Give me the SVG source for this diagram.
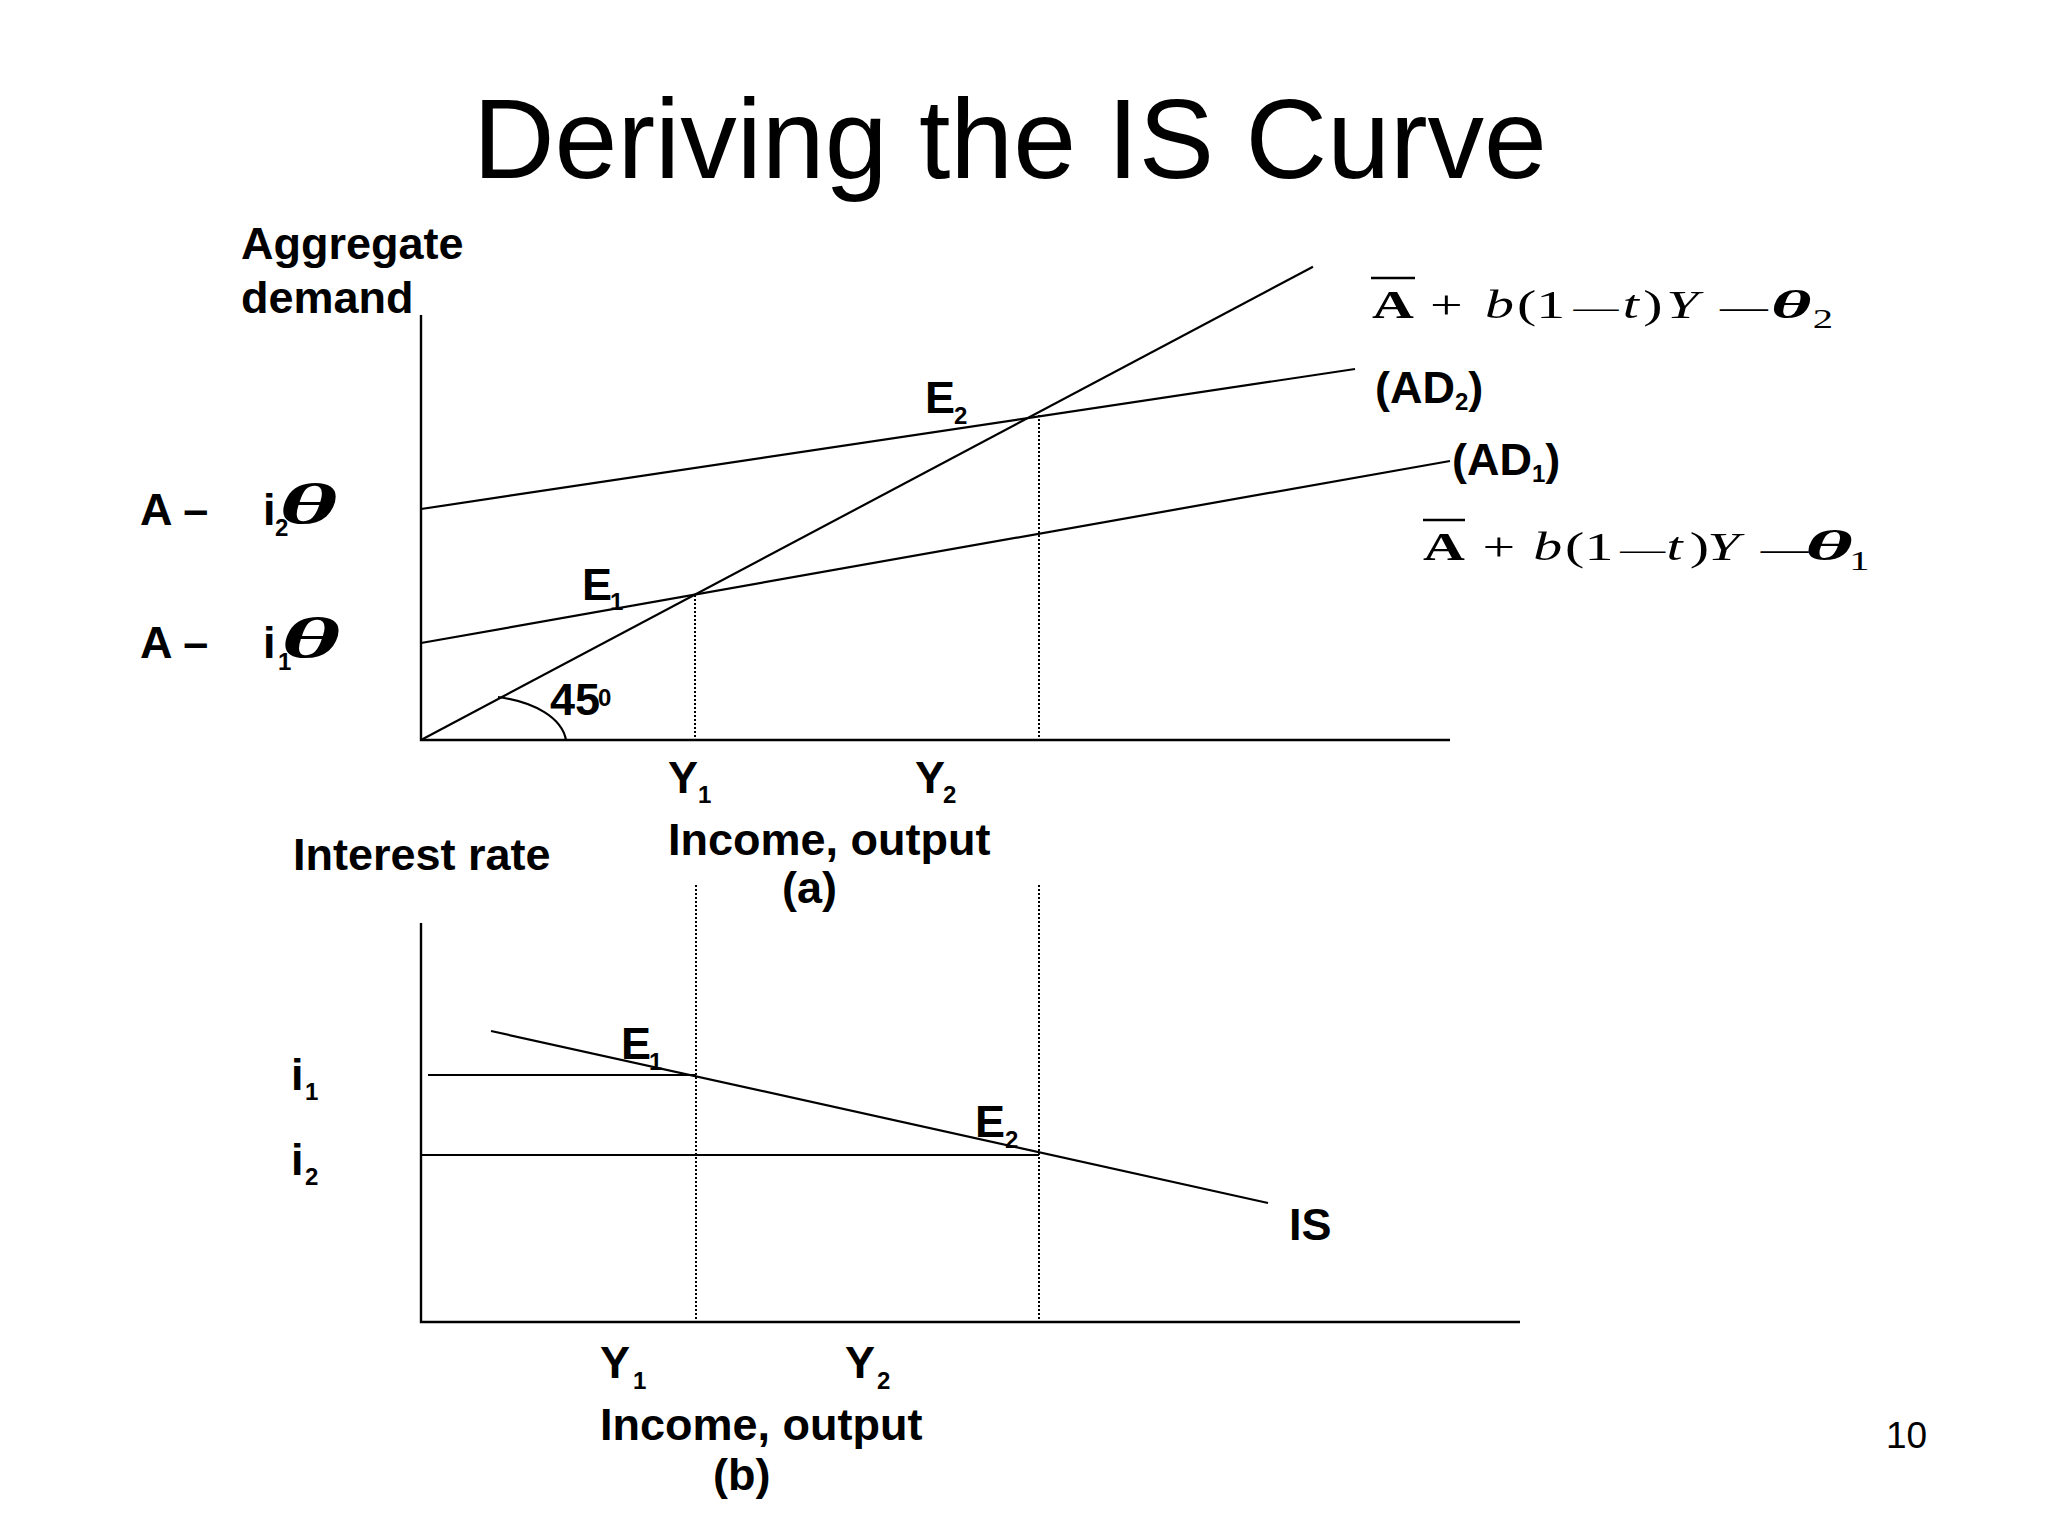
<svg xmlns="http://www.w3.org/2000/svg" width="2048" height="1536" viewBox="0 0 2048 1536">
<style>
.b{font-family:"Liberation Sans",Arial,sans-serif;font-weight:bold;font-size:45px;fill:#000}
.s{font-size:24px}
.ln{stroke:#000;stroke-width:2.2;fill:none}
.ax{stroke:#000;stroke-width:2.4;fill:none}
.dt{stroke:#000;stroke-width:2;stroke-dasharray:2 2;fill:none}
.f{font-family:"Liberation Serif","Times New Roman",serif;font-size:40px;fill:#000}
.it{font-style:italic}
.th{font-family:"Liberation Serif","Times New Roman",serif;font-style:italic;font-weight:bold;fill:#000}
</style>
<rect width="2048" height="1536" fill="#fff"/>
<text id="title" x="1010" y="178" text-anchor="middle" font-family="'Liberation Sans',Arial,sans-serif" font-size="113">Deriving the IS Curve</text>

<g id="panel-a-axes">
<path class="ax" d="M421,315 V740 H1450"/>
</g>
<g id="connectors">
<line class="ln" x1="421" y1="740" x2="1313" y2="266.7"/>
<line class="ln" x1="421" y1="509" x2="1355" y2="369"/>
<line class="ln" x1="421" y1="643" x2="1450" y2="461"/>
<path class="ln" d="M498,697 C535,702 562,718 566,740"/>
<line class="dt" x1="695" y1="595" x2="695" y2="740"/>
<line class="dt" x1="1039" y1="415" x2="1039" y2="740"/>
<line class="dt" x1="696" y1="885" x2="696" y2="1322"/>
<line class="dt" x1="1039" y1="885" x2="1039" y2="1322"/>
<line class="ln" x1="428" y1="1075" x2="696" y2="1075"/>
<line class="ln" x1="421" y1="1155" x2="1039" y2="1155"/>
<line class="ln" x1="491" y1="1031" x2="1268" y2="1203"/>
</g>
<g id="panel-b-axes">
<path class="ax" d="M421,923 V1322 H1520"/>
</g>

<g id="label-aggregate-demand">
<text class="b" x="241" y="259">Aggregate</text>
<text class="b" x="241" y="313">demand</text>
</g>
<g id="label-A-i2">
<text class="b" x="140" y="525">A –</text>
<text class="b" x="263" y="525">i</text>
<text class="b s" x="275" y="536">2</text>
<text class="th" font-size="58" transform="translate(279,523) scale(1.95,1)">θ</text>
</g>
<g id="label-A-i1">
<text class="b" x="140" y="658">A –</text>
<text class="b" x="263" y="658">i</text>
<text class="b s" x="278" y="670">1</text>
<text class="th" font-size="56" transform="translate(281,657) scale(2.05,1)">θ</text>
</g>
<g id="label-E1-top"><text class="b" x="582" y="600">E</text><text class="b s" x="610" y="610">1</text></g>
<g id="label-E2-top"><text class="b" x="925" y="413">E</text><text class="b s" x="954" y="424">2</text></g>
<g id="label-45"><text class="b" x="550" y="715">45</text><text class="b s" x="598" y="706">0</text></g>
<g id="label-AD2"><text class="b" x="1375" y="403">(AD<tspan class="s" dy="7">2</tspan><tspan dy="-7">)</tspan></text></g>
<g id="label-AD1"><text class="b" x="1452" y="475">(AD<tspan class="s" dy="7">1</tspan><tspan dy="-7">)</tspan></text></g>

<g id="formula-2">
<line x1="1371" y1="278" x2="1415" y2="278" stroke="#000" stroke-width="2.5"/>
<text class="f" transform="translate(1372,318) scale(1.45,1)"><tspan x="0" font-weight="bold">A</tspan><tspan x="40">+</tspan><tspan x="78" class="it">b</tspan><tspan x="100">(1</tspan><tspan x="139" font-size="31">—</tspan><tspan x="173" class="it">t</tspan><tspan x="187">)</tspan><tspan x="203" class="it">Y</tspan><tspan x="240" font-size="33">—</tspan><tspan x="304" dy="10" font-size="28">2</tspan></text>
<text class="th" font-size="40" transform="translate(1771,318) scale(1.95,1)">θ</text>
</g>
<g id="formula-1">
<line x1="1423" y1="520" x2="1465" y2="520" stroke="#000" stroke-width="2.5"/>
<text class="f" transform="translate(1423,560) scale(1.45,1)"><tspan x="0" font-weight="bold">A</tspan><tspan x="41">+</tspan><tspan x="76" class="it">b</tspan><tspan x="98">(1</tspan><tspan x="136" font-size="31">—</tspan><tspan x="168" class="it">t</tspan><tspan x="184">)</tspan><tspan x="196" class="it">Y</tspan><tspan x="233" font-size="33">—</tspan><tspan x="294" dy="10" font-size="28">1</tspan></text>
<text class="th" font-size="42" transform="translate(1805,560) scale(2.2,1)">θ</text>
</g>

<g id="label-Y-top">
<text class="b" x="668" y="793">Y</text><text class="b s" x="698" y="803">1</text>
<text class="b" x="915" y="793">Y</text><text class="b s" x="943" y="803">2</text>
</g>
<g id="label-income-a">
<text class="b" x="668" y="855">Income, output</text>
<text class="b" x="782" y="903">(a)</text>
</g>
<g id="label-interest-rate"><text class="b" x="293" y="870">Interest rate</text></g>
<g id="label-i1"><text class="b" x="291" y="1090">i</text><text class="b s" x="305" y="1100">1</text></g>
<g id="label-i2"><text class="b" x="291" y="1175">i</text><text class="b s" x="305" y="1185">2</text></g>
<g id="label-E1-bottom"><text class="b" x="621" y="1059">E</text><text class="b s" x="649" y="1070">1</text></g>
<g id="label-E2-bottom"><text class="b" x="975" y="1137">E</text><text class="b s" x="1005" y="1148">2</text></g>
<g id="label-IS"><text class="b" x="1289" y="1240">IS</text></g>
<g id="label-Y-bottom">
<text class="b" x="600" y="1378">Y</text><text class="b s" x="633" y="1389">1</text>
<text class="b" x="845" y="1378">Y</text><text class="b s" x="877" y="1389">2</text>
</g>
<g id="label-income-b">
<text class="b" x="600" y="1440">Income, output</text>
<text class="b" x="713" y="1490">(b)</text>
</g>
<text id="page-number" x="1886" y="1448" font-family="'Liberation Sans',Arial,sans-serif" font-size="37">10</text>
</svg>
